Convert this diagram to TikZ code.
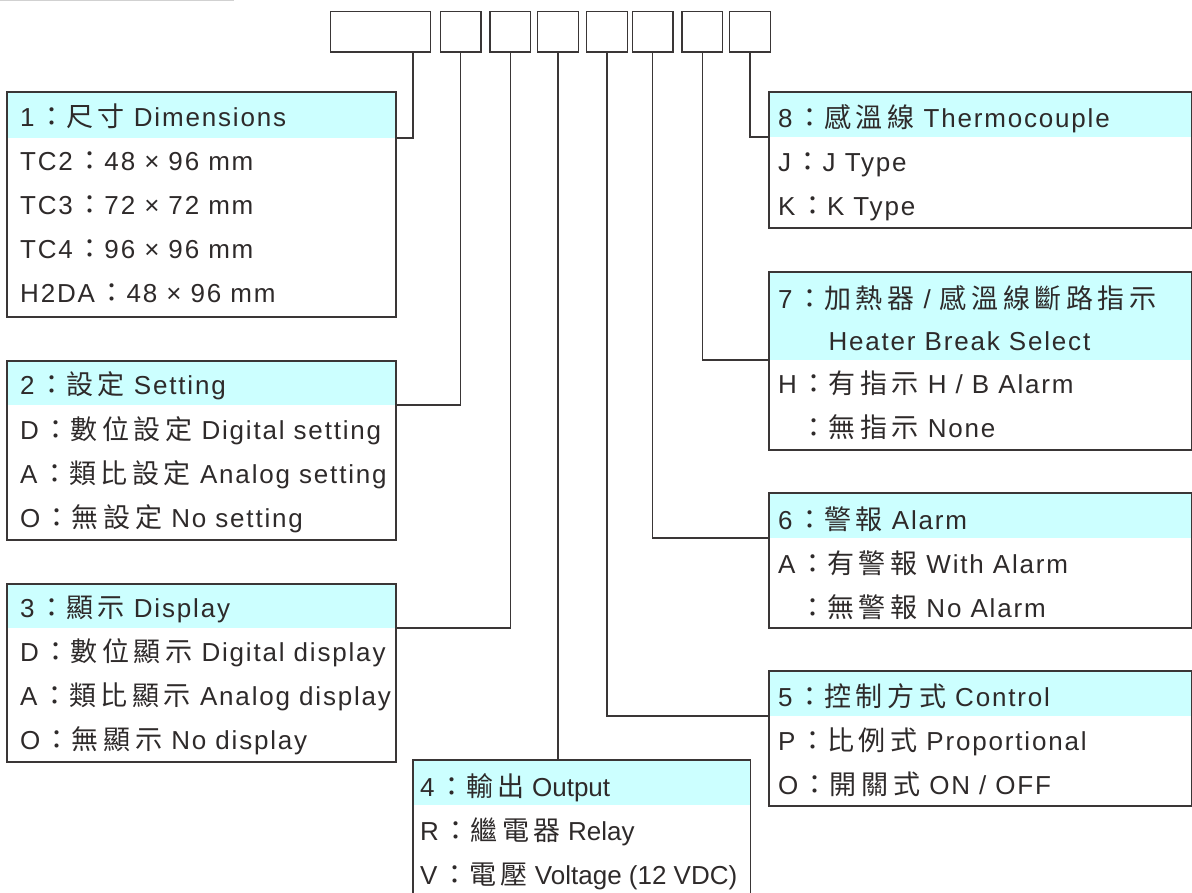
\documentclass[tikz,border=0pt]{standalone}
\usepackage{fontspec}
\setmainfont{Liberation Sans}[LetterSpace=7]
\newfontfamily\cjk{Noto Sans CJK TC}[LetterSpace=17,Scale=1.04]
\newfontfamily\plainlat{Liberation Sans}
\newcommand\zh[1]{{\cjk #1}}
\newcommand\cl{\hspace{3.5pt}{\cjk ：}\hspace{1pt}}
\definecolor{hdrcyan}{HTML}{CCFFFF}
\definecolor{linec}{HTML}{3A3636}
\definecolor{txtc}{HTML}{2E2A2A}
\begin{document}
\begin{tikzpicture}[x=1pt,y=1pt,
  boxst/.style={draw=linec, line width=1.3pt, rectangle, inner sep=0pt, outer sep=0pt, anchor=north west},
  hdr/.style={fill=hdrcyan, rectangle, inner sep=0pt, outer sep=0pt, anchor=north west},
  topbox/.style={draw=linec, line width=1.3pt, rectangle, inner sep=0pt, outer sep=0pt, anchor=north west, minimum height=40.5},
  txt/.style={anchor=base west, inner sep=0pt, text=txtc, font=\fontsize{26}{30}\selectfont},
  conn/.style={draw=linec, line width=1.3pt}]
\useasboundingbox (0,0) rectangle (1192,-893);
\clip (0,0) rectangle (1192,-893);
\draw[black!18, line width=1.5pt] (0,-0.75) -- (234,-0.75);
% top code boxes
\node[topbox, minimum width=100] (t0) at (330.5,-11.5) {};
\node[topbox, minimum width=40.5] (t1) at (440.5,-11.5) {};
\node[topbox, minimum width=40.5] (t2) at (490,-11.5) {};
\node[topbox, minimum width=40.5] (t3) at (537.7,-11.5) {};
\node[topbox, minimum width=40.5] (t4) at (586.7,-11.5) {};
\node[topbox, minimum width=40.5] (t5) at (632.5,-11.5) {};
\node[topbox, minimum width=40.5] (t6) at (682,-11.5) {};
\node[topbox, minimum width=40.5] (t7) at (729.7,-11.5) {};
% headers
\node[hdr, minimum width=389, minimum height=46] (h1) at (7,-92) {};
\node[hdr, minimum width=389, minimum height=44] (h2) at (7,-361) {};
\node[hdr, minimum width=389, minimum height=44] (h3) at (7,-584) {};
\node[hdr, minimum width=337.5, minimum height=45] (h4) at (413,-760) {};
\node[hdr, minimum width=422.5, minimum height=45] (h8) at (769,-92) {};
\node[hdr, minimum width=422.5, minimum height=88] (h7) at (769,-272) {};
\node[hdr, minimum width=422.5, minimum height=45] (h6) at (769,-493) {};
\node[hdr, minimum width=422.5, minimum height=45] (h5) at (769,-671) {};
% boxes
\node[boxst, minimum width=389, minimum height=225] (b1) at (7,-92) {};
\node[boxst, minimum width=389, minimum height=179] (b2) at (7,-361) {};
\node[boxst, minimum width=389, minimum height=178] (b3) at (7,-584) {};
\node[boxst, minimum width=337.5, minimum height=150] (b4) at (413,-760) {};
\node[boxst, minimum width=422.5, minimum height=136] (b8) at (769,-92) {};
\node[boxst, minimum width=422.5, minimum height=178] (b7) at (769,-272) {};
\node[boxst, minimum width=422.5, minimum height=135] (b6) at (769,-493) {};
\node[boxst, minimum width=422.5, minimum height=135] (b5) at (769,-671) {};
% connectors
\draw[conn] ([xshift=32.5pt]t0.south) |- (h1.south east);
\draw[conn] (t1.south) |- (h2.south east);
\draw[conn] (t2.south) |- (h3.south east);
\draw[conn] (t3.south) -- (b4.north -| t3.south);
\draw[conn] (t4.south) |- (h5.south west);
\draw[conn] (t5.south) |- (h6.south west);
\draw[conn] (t6.south) |- (h7.south west);
\draw[conn] (t7.south) |- (h8.south west);
% box 1
\node[txt] (r10) at (20,-127) {1\cl\zh{尺寸} Dimensions};
\node[txt] (r11) at (20,-171) {TC2\cl48 × 96 mm};
\node[txt] (r12) at (20,-215) {TC3\cl72 × 72 mm};
\node[txt] (r13) at (20,-259) {TC4\cl96 × 96 mm};
\node[txt] (r14) at (20,-303) {H2DA\cl48 × 96 mm};
% box 2
\node[txt] (r20) at (20,-395) {2\cl\zh{設定} Setting};
\node[txt] (r21) at (20,-439) {D\cl\zh{數位設定} Digital setting};
\node[txt] (r22) at (20,-483) {A\cl\zh{類比設定} Analog setting};
\node[txt] (r23) at (20,-527) {O\cl\zh{無設定} No setting};
% box 3
\node[txt] (r30) at (20,-617) {3\cl\zh{顯示} Display};
\node[txt] (r31) at (20,-661) {D\cl\zh{數位顯示} Digital display};
\node[txt] (r32) at (20,-705) {A\cl\zh{類比顯示} Analog display};
\node[txt] (r33) at (20,-749) {O\cl\zh{無顯示} No display};
% box 4
\node[txt] (r40) at (420,-796) {\plainlat 4\cl\zh{輸出} Output};
\node[txt] (r41) at (420,-840) {\plainlat R\cl\zh{繼電器} Relay};
\node[txt] (r42) at (420,-884) {\plainlat V\cl\zh{電壓} Voltage (12 VDC)};
% box 8
\node[txt] (r80) at (778,-128) {8\cl\zh{感溫線} Thermocouple};
\node[txt] (r81) at (778,-172) {J\cl J Type};
\node[txt] (r82) at (778,-216) {K\cl K Type};
% box 7
\node[txt] (r70) at (778,-309) {7\cl\zh{加熱器} / \zh{感溫線斷路指示}};
\node[txt] (r71) at (778,-351) {\phantom{H\cl}Heater Break Select};
\node[txt] (r72) at (778,-393) {H\cl\zh{有指示} H / B Alarm};
\node[txt] (r73) at (778,-437) {\phantom{H}\cl\zh{無指示} None};
% box 6
\node[txt] (r60) at (778,-529) {6\cl\zh{警報} Alarm};
\node[txt] (r61) at (778,-573) {A\cl\zh{有警報} With Alarm};
\node[txt] (r62) at (778,-617) {\phantom{A}\cl\zh{無警報} No Alarm};
% box 5
\node[txt] (r50) at (778,-706) {5\cl\zh{控制方式} Control};
\node[txt] (r51) at (778,-750) {P\cl\zh{比例式} Proportional};
\node[txt] (r52) at (778,-794) {O\cl\zh{開關式} ON / OFF};
\end{tikzpicture}
\end{document}
